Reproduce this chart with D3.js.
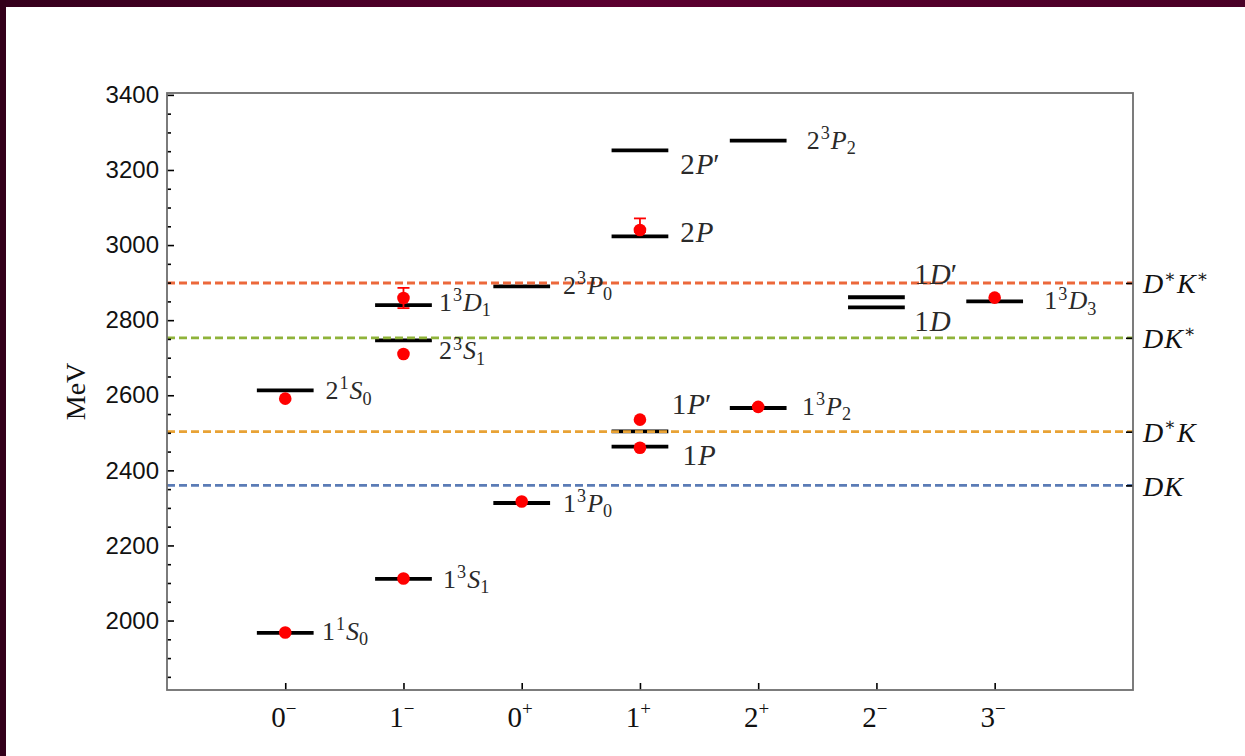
<!DOCTYPE html>
<html>
<head>
<meta charset="utf-8">
<script src="https://cdn.jsdelivr.net/npm/d3@7"></script>
<style>
  html, body { margin: 0; padding: 0; background: #ffffff; }
  svg { display: block; }
</style>
</head>
<body>
<svg id="chart" width="1245" height="756"></svg>
<script>
// J^P columns along the horizontal axis
const jpDigits = ["0", "1", "0", "1", "2", "2", "3"];
const jpParity = ["−", "−", "+", "+", "+", "−", "−"];

// Predicted cs̄ levels (MeV) and their spectroscopic names
const levelJP   = [0, 0, 1, 1, 1, 2, 2, 3, 3, 3, 3, 4, 4, 5, 5, 6];
const levelMass = [1967, 2613, 2111, 2746, 2840, 2313, 2890, 2463, 2504, 3023, 3252, 2566, 3278, 2861, 2834, 2850];
const levelName = ["1^1S_0", "2^1S_0", "1^3S_1", "2^3S_1", "1^3D_1", "1^3P_0", "2^3P_0",
                   "1P", "1P'", "2P", "2P'", "1^3P_2", "2^3P_2", "1D'", "1D", "1^3D_3"];

// Observed states (MeV) with asymmetric uncertainties
const expJP    = [0, 0, 1, 1, 1, 2, 3, 3, 3, 4, 6];
const expMass  = [1968, 2591, 2112, 2710, 2859, 2317, 2460, 2535, 3040, 2569, 2860];
const expErrLo = [0, 0, 0, 0, 27, 0, 0, 0, 5, 0, 0];
const expErrHi = [0, 0, 0, 0, 27, 0, 0, 0, 31, 0, 0];

// Two-meson thresholds (MeV)
const thrName = ["DK", "D^*K", "DK^*", "D^*K^*"];
const thrMass = [2360, 2503, 2753, 2899];

// Vertical axis ticks
const majorTicks = [2000, 2200, 2400, 2600, 2800, 3000, 3200, 3400];
const minorTicks = d3.range(1850, 3401, 50).filter(v => !majorTicks.includes(v));

// ---- layout and style ----
const W = 1245, H = 756;
const plot = { left: 167, right: 1133, top: 93, bottom: 690 };
const thrColor = ["#5b7cb6", "#e8a235", "#8fb33a", "#ec683b"];
// label placement: offset in J^P units to the right, and baseline offset in px from the level
const labelDx = [0.31, 0.34, 0.335, 0.30, 0.30, 0.35, 0.35, 0.36, 0.27, 0.34, 0.34, 0.37, 0.41, 0.32, 0.32, 0.42];
const labelDy = [7, 9, 9, 19, 6, 9, 8, 18, -17, 6, 24, 7, 8, -13, 24, 8];
const serif = "'Liberation Serif', 'DejaVu Serif', serif";
const sans = "'Liberation Sans', Arial, Helvetica, sans-serif";

const svg = d3.select("#chart");

// page frame
const defs = svg.append("defs");
const grad = defs.append("linearGradient").attr("id", "band").attr("x1", 0).attr("x2", 1);
grad.append("stop").attr("offset", "0%").attr("stop-color", "#35001c");
grad.append("stop").attr("offset", "50%").attr("stop-color", "#5c0030");
grad.append("stop").attr("offset", "100%").attr("stop-color", "#4a0026");
svg.append("rect").attr("width", W).attr("height", H).attr("fill", "#ffffff");
svg.append("rect").attr("x", 0).attr("y", 0).attr("width", W).attr("height", 7).attr("fill", "url(#band)");
svg.append("rect").attr("x", 0).attr("y", 0).attr("width", 6).attr("height", H).attr("fill", "#33001a");

const x = d3.scaleLinear().domain([-1, 7.17]).range([plot.left, plot.right]);
const y = d3.scaleLinear().domain([1815, 3405]).range([plot.bottom, plot.top]);

// write a small math-style label: digits upright, letters italic, ^x raised, _x lowered
function mathText(sel, src, fs) {
  let shift = 0;
  const put = (txt, opts) => {
    const target = opts.shift;
    const t = sel.append("tspan").text(txt)
      .attr("font-size", opts.size)
      .attr("font-style", opts.italic ? "italic" : "normal")
      .attr("dy", target - shift);
    if (opts.dx) t.attr("dx", opts.dx);
    shift = target;
  };
  for (let i = 0; i < src.length; i++) {
    const c = src[i];
    if (c === "^" || c === "_") {
      const n = src[++i];
      const sup = c === "^";
      const star = n === "*";
      put(star ? "∗" : n, { size: fs * (star ? 0.62 : 0.7), italic: /[A-Za-z]/.test(n),
        shift: sup ? -fs * (star ? 0.42 : 0.38) : fs * 0.2, dx: sup ? 1 : 0 });
    } else if (c === "'") {
      put("′", { size: fs, italic: false, shift: 0 });
    } else {
      const letter = /[A-Za-z]/.test(c);
      put(c, { size: fs, italic: letter, shift: 0, dx: letter && i > 0 ? 1 : 0 });
    }
  }
}

// levels (drawn first so thresholds lie on top)
const hw = 0.24;
svg.append("g").selectAll("line").data(levelMass).join("line")
  .attr("x1", (d, i) => x(levelJP[i] - hw))
  .attr("x2", (d, i) => x(levelJP[i] + hw))
  .attr("y1", d => y(d)).attr("y2", d => y(d))
  .attr("stroke", "#000").attr("stroke-width", 3.8);

// thresholds
svg.append("g").selectAll("line").data(thrMass).join("line")
  .attr("x1", plot.left).attr("x2", plot.right)
  .attr("y1", d => y(d)).attr("y2", d => y(d))
  .attr("stroke", (d, i) => thrColor[i]).attr("stroke-width", 2.8)
  .attr("stroke-dasharray", "8,4");

// level labels: spectroscopic names a bit smaller than the mixed-state names
const lab = svg.append("g").attr("font-family", serif).attr("fill", "#2a2a2a");
levelMass.forEach((m, i) => {
  const t = lab.append("text").attr("x", x(levelJP[i] + labelDx[i])).attr("y", y(m) + labelDy[i]);
  mathText(t, levelName[i], levelName[i].includes("^") ? 26 : 29);
});

// observed states with error bars
const ex = svg.append("g");
expMass.forEach((m, i) => {
  if (expErrLo[i] || expErrHi[i]) {
    const cx = x(expJP[i]);
    const lo = y(m - expErrLo[i]), hi = y(m + expErrHi[i]);
    ex.append("line").attr("x1", cx).attr("x2", cx).attr("y1", lo).attr("y2", hi)
      .attr("stroke", "#ff0000").attr("stroke-width", 1.8);
    [lo, hi].forEach(v => ex.append("line").attr("x1", cx - 6).attr("x2", cx + 6)
      .attr("y1", v).attr("y2", v).attr("stroke", "#ff0000").attr("stroke-width", 1.8));
  }
});
ex.selectAll("circle").data(expMass).join("circle")
  .attr("cx", (d, i) => x(expJP[i])).attr("cy", d => y(d))
  .attr("r", 6.3).attr("fill", "#ff0000");

// axes
const axisColor = "#6e6e6e";
const gl = svg.append("g").attr("transform", `translate(${plot.left},0)`)
  .call(d3.axisLeft(y).tickValues(majorTicks).tickSize(-7).tickPadding(8).tickFormat(d3.format("d")));
svg.append("g").attr("transform", `translate(${plot.left},0)`)
  .call(d3.axisLeft(y).tickValues(minorTicks).tickSize(-4).tickFormat(""));
gl.selectAll("text").attr("font-family", sans).attr("font-size", 24).attr("fill", "#111");

const gb = svg.append("g").attr("transform", `translate(0,${plot.bottom})`)
  .call(d3.axisBottom(x).tickValues(d3.range(jpDigits.length)).tickSize(-7).tickFormat(""));
gb.selectAll(".tick").each(function (d) {
  const t = d3.select(this).append("text")
    .attr("y", 37).attr("x", -2).attr("text-anchor", "middle")
    .attr("font-family", serif).attr("fill", "#111");
  t.append("tspan").text(jpDigits[d]).attr("font-size", 29);
  t.append("tspan").text(jpParity[d]).attr("font-size", 19).attr("dy", -12);
});

const gr = svg.append("g").attr("transform", `translate(${plot.right},0)`)
  .call(d3.axisRight(y).tickValues(thrMass).tickSize(-7).tickFormat(""));
gr.selectAll(".tick").each(function (d, i) {
  const t = d3.select(this).append("text").attr("x", 10).attr("y", 10)
    .attr("font-family", serif).attr("fill", "#111");
  mathText(t, thrName[i], 28);
});

svg.selectAll(".domain").remove();
svg.selectAll(".tick line").attr("stroke", "#000").attr("stroke-width", 1.6);

// plot frame
svg.append("rect").attr("x", plot.left).attr("y", plot.top)
  .attr("width", plot.right - plot.left).attr("height", plot.bottom - plot.top)
  .attr("fill", "none").attr("stroke", axisColor).attr("stroke-width", 1.8);

// axis title
svg.append("text").attr("transform", `translate(85,${(plot.top + plot.bottom) / 2}) rotate(-90)`)
  .attr("text-anchor", "middle").attr("font-family", serif).attr("font-size", 28)
  .attr("fill", "#111").text("MeV");
</script>
</body>
</html>
